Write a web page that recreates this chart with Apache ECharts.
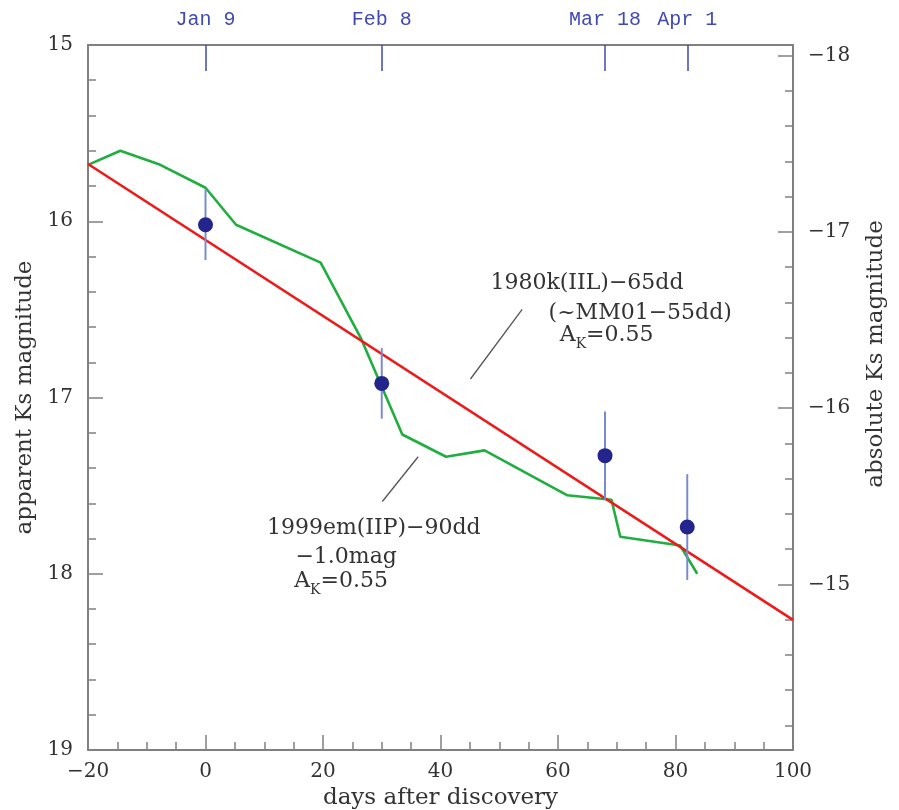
<!DOCTYPE html>
<html>
<head>
<meta charset="utf-8">
<script src="https://cdn.jsdelivr.net/npm/echarts@6/dist/echarts.min.js"></script>
<style>
html,body{margin:0;padding:0;background:#fff;}
#chart{width:899px;height:810px;}
</style>
</head>
<body>
<div id="chart"></div>
<script>
// ---- data ----
const redX = [-20, 100];
const redY = [15.675, 18.262];

const greenX = [-20, -14.5, -7.7, 0, 5.2, 19.6, 26.4, 33.5, 40.95, 47.5, 61.6, 69.1, 70.6, 80.8, 83.7];
const greenY = [15.68, 15.60, 15.68, 15.81, 16.02, 16.235, 16.66, 17.21, 17.336, 17.30, 17.555, 17.58, 17.79, 17.84, 18.00];

const obsX = [0, 30, 68, 82];
const obsY = [16.02, 16.92, 17.33, 17.735];
const obsErr = [0.2, 0.2, 0.25, 0.3];

const dateDays = [0, 30, 68, 82];
const dateLabels = ['Jan 9', 'Feb 8', 'Mar 18', 'Apr 1'];

const absMajor = [-18, -17, -16, -15];
const absMinor = [-17.8, -17.6, -17.4, -17.2, -16.8, -16.6, -16.4, -16.2, -15.8, -15.6, -15.4, -15.2, -14.8, -14.6, -14.4, -14.2];
const absRange = [-18.06, -14.06];

// annotation anchors in data coordinates
const note1Lines = [
  {text: '1980k(IIL)\u221265dd', x: 48.5, y: 16.35},
  {text: '(~MM01\u221255dd)', x: 58.4, y: 16.52},
  {text: 'AK', x: 60.3, y: 16.66}
];
const note2Lines = [
  {text: '1999em(IIP)\u221290dd', x: 10.45, y: 17.744},
  {text: '\u22121.0mag', x: 15.3, y: 17.904},
  {text: 'AK', x: 15.1, y: 18.058}
];
const leader1 = [[53.9, 16.50], [45.1, 16.895]];
const leader2 = [[36.2, 17.336], [30.1, 17.59]];

// ---- chart ----
const SERIF = '"DejaVu Serif", "Liberation Serif", serif';
const AXIS = '#808080';
const TXT = '#333333';
const BLUE = '#4149b3';
const minus = v => String(v).replace('-', '\u2212');

const chart = echarts.init(document.getElementById('chart'), null, {renderer: 'canvas'});

const option = {
  animation: false,
  backgroundColor: '#ffffff',
  grid: {left: 88, right: 106, top: 45, bottom: 60, containLabel: false, outerBoundsMode: 'none'},
  xAxis: [
    {
      type: 'value', position: 'bottom', min: -20, max: 100, interval: 20,
      axisLine: {show: true, onZero: false, lineStyle: {color: AXIS, width: 2}},
      axisTick: {show: true, inside: true, length: 15, lineStyle: {color: AXIS, width: 1.5}},
      minorTick: {show: true, splitNumber: 4, length: 8, lineStyle: {color: AXIS, width: 1.5}},
      splitLine: {show: false},
      axisLabel: {fontFamily: SERIF, fontSize: 20, color: TXT, margin: 12, formatter: minus},
      name: 'days after discovery', nameLocation: 'middle', nameGap: 36,
      nameTextStyle: {fontFamily: SERIF, fontSize: 23, color: TXT}
    },
    {
      type: 'value', position: 'top', min: -20, max: 100,
      axisLine: {show: true, onZero: false, lineStyle: {color: AXIS, width: 2}},
      axisTick: {show: true, inside: true, length: 26, customValues: dateDays, lineStyle: {color: BLUE, width: 1.5}},
      splitLine: {show: false},
      axisLabel: {show: true, customValues: dateDays, margin: 15,
        fontFamily: '"Liberation Mono", "DejaVu Sans Mono", monospace', fontSize: 20, color: BLUE,
        formatter: v => dateLabels[dateDays.indexOf(v)] || ''}
    }
  ],
  yAxis: [
    {
      type: 'value', position: 'left', min: 15, max: 19, interval: 1, inverse: true,
      axisLine: {show: true, onZero: false, lineStyle: {color: AXIS, width: 2}},
      axisTick: {show: true, inside: true, length: 15, lineStyle: {color: AXIS, width: 1.5}},
      minorTick: {show: true, splitNumber: 5, length: 8, lineStyle: {color: AXIS, width: 1.5}},
      splitLine: {show: false},
      axisLabel: {fontFamily: SERIF, fontSize: 20, color: TXT, margin: 15},
      name: 'apparent Ks magnitude', nameLocation: 'middle', nameGap: 50, nameRotate: 90,
      nameTextStyle: {fontFamily: SERIF, fontSize: 23, color: TXT}
    },
    {
      type: 'value', position: 'right', min: absRange[0], max: absRange[1], inverse: true,
      axisLine: {show: true, onZero: false, lineStyle: {color: AXIS, width: 2}},
      axisTick: {show: true, inside: true, length: 15, customValues: absMajor, lineStyle: {color: AXIS, width: 1.5}},
      splitLine: {show: false},
      axisLabel: {fontFamily: SERIF, fontSize: 20, color: TXT, margin: 15, customValues: absMajor, formatter: minus}
    },
    {
      type: 'value', position: 'right', min: absRange[0], max: absRange[1], inverse: true,
      axisLine: {show: false, onZero: false},
      axisTick: {show: true, inside: true, length: 8, customValues: absMinor, lineStyle: {color: AXIS, width: 1.5}},
      splitLine: {show: false},
      axisLabel: {show: false}
    }
  ],
  series: [
    {
      type: 'line', name: '1980k', xAxisIndex: 0, yAxisIndex: 0,
      data: redX.map((x, i) => [x, redY[i]]),
      showSymbol: false, symbol: 'none', z: 3,
      lineStyle: {color: '#ee1a1a', width: 2.6}
    },
    {
      type: 'line', name: '1999em', xAxisIndex: 0, yAxisIndex: 0,
      data: greenX.map((x, i) => [x, greenY[i]]),
      showSymbol: false, symbol: 'none', z: 2,
      lineStyle: {color: '#1fae3f', width: 2.6}
    },
    {
      type: 'custom', name: 'errors', xAxisIndex: 0, yAxisIndex: 0, z: 4,
      data: obsX.map((x, i) => [x, obsY[i] - obsErr[i], obsY[i] + obsErr[i]]),
      renderItem: function (params, api) {
        const p1 = api.coord([api.value(0), api.value(1)]);
        const p2 = api.coord([api.value(0), api.value(2)]);
        return {type: 'line', shape: {x1: p1[0], y1: p1[1], x2: p2[0], y2: p2[1]},
          style: {stroke: '#7b8ad0', lineWidth: 2}};
      }
    },
    {
      type: 'scatter', name: 'obs', xAxisIndex: 0, yAxisIndex: 0, z: 5,
      data: obsX.map((x, i) => [x, obsY[i]]),
      symbol: 'circle', symbolSize: 15,
      itemStyle: {color: '#23258c', opacity: 1}
    }
  ]
};
chart.setOption(option);

function px(p) { return chart.convertToPixel({xAxisIndex: 0, yAxisIndex: 0}, p); }

function noteText(line) {
  const p = px([line.x, line.y]);
  if (line.text === 'AK') {
    return {
      type: 'text', x: p[0], y: p[1], z: 10,
      style: {
        text: '{a|A}{k|K}{a|=0.55}', x: 0, y: 0, align: 'left', verticalAlign: 'middle',
        rich: {
          a: {fontFamily: SERIF, fontSize: 22, fill: TXT, verticalAlign: 'bottom', padding: [0, 0, 5, 0]},
          k: {fontFamily: SERIF, fontSize: 14, fill: TXT, verticalAlign: 'bottom', padding: [0, 0, 0, 0]}
        }
      }
    };
  }
  return {
    type: 'text', x: p[0], y: p[1], z: 10,
    style: {text: line.text, x: 0, y: 0, fontFamily: SERIF, fontSize: 22, fill: TXT, align: 'left', verticalAlign: 'middle'}
  };
}
function leader(l) {
  const a = px(l[0]), b = px(l[1]);
  return {type: 'line', z: 10, shape: {x1: a[0], y1: a[1], x2: b[0], y2: b[1]}, style: {stroke: '#555', lineWidth: 1.3}};
}

const graphics = [];
note1Lines.forEach(l => graphics.push(noteText(l)));
note2Lines.forEach(l => graphics.push(noteText(l)));
graphics.push(leader(leader1));
graphics.push(leader(leader2));
// right axis title
graphics.push({
  type: 'text', x: 876, y: 354, rotation: Math.PI / 2, z: 10,
  style: {text: 'absolute Ks magnitude', x: 0, y: 0, fontFamily: SERIF, fontSize: 23, fill: TXT, align: 'center', verticalAlign: 'middle'}
});
chart.setOption({graphic: {elements: graphics}});
</script>
</body>
</html>
